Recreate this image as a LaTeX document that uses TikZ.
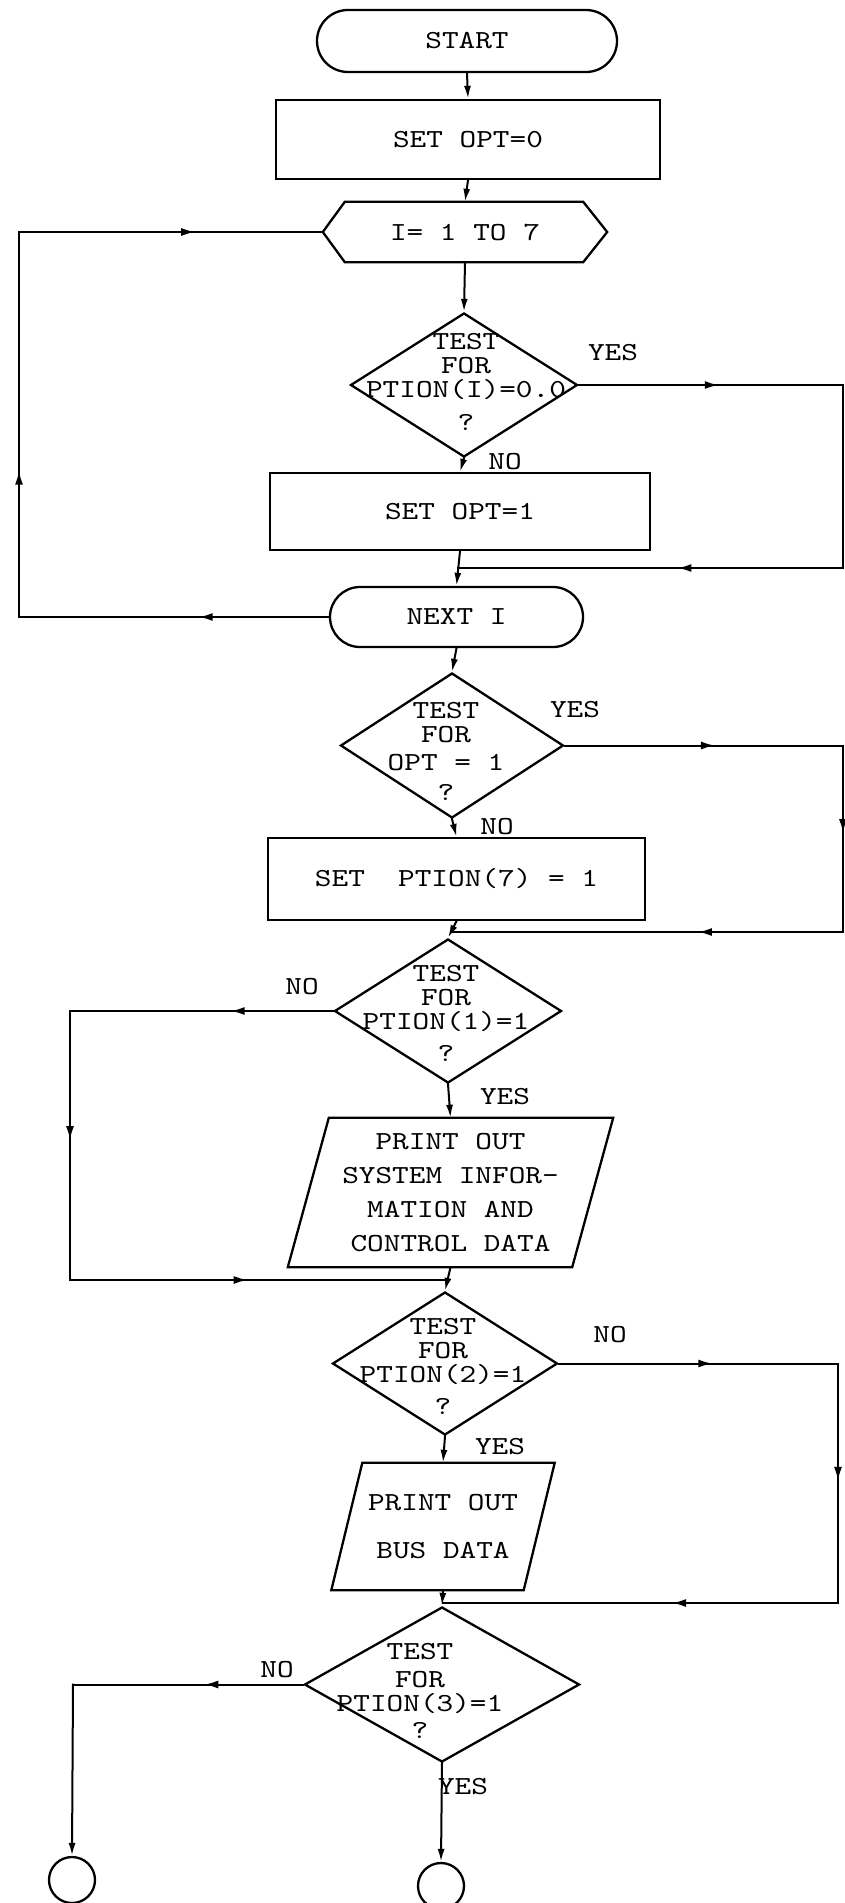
\documentclass[tikz,border=0pt]{standalone}
\usepackage{fontspec}
\newfontfamily\courfont{lmmono10-regular.otf}[FakeStretch=1.22]
\usetikzlibrary{shapes.geometric,shapes.misc,arrows.meta,decorations.markings}
\begin{document}
\begin{tikzpicture}[x=1pt,y=-1pt]
\tikzset{
  every node/.style={font={\courfont\fontsize{26}{24}\selectfont\lineskiplimit=-100pt}},
  shp/.style={draw, line width=2.3pt, inner sep=0pt},
  boxnode/.style={shp, rectangle},
  termnode/.style={shp, rounded rectangle},
  dianode/.style={shp, diamond},
  txt/.style={inner sep=0pt, align=center},
  lab/.style={inner sep=0pt},
  conn/.style={line width=2pt, line cap=rect},
  tip/.style={-{Latex[length=13pt,width=7pt]}},
  arrat/.style={postaction={decorate}, decoration={markings, mark=at position #1 with {\arrow{Latex[length=14pt,width=8pt]}}}},
}
\fill[white] (0,0) rectangle (845,1903);
\useasboundingbox (0,0) rectangle (845,1903);

% rails and merge points
\coordinate (R1) at (843,0);
\coordinate (R2) at (838,0);
\coordinate (L1) at (19,0);
\coordinate (L2) at (70,0);
\coordinate (L3) at (73,0);
\coordinate (m1) at (458,568);
\coordinate (m2) at (451,932);
\coordinate (m3) at (448,1280);
\coordinate (m4) at (443,1603);

% nodes
\node[termnode, minimum width=300pt, minimum height=62pt] (start) at (467,41) {START};
\node[boxnode, minimum width=384pt, minimum height=79pt] (set0) at (468,139.5) {SET OPT=0};
\node[inner sep=0pt, minimum width=284pt, minimum height=60pt] (loop) at (465,232) {I= 1 TO 7};
\draw[line width=2.3pt] ([xshift=22pt]loop.north west) -- ([xshift=-24pt]loop.north east) -- (loop.east) -- ([xshift=-24pt]loop.south east) -- ([xshift=22pt]loop.south west) -- (loop.west) -- cycle;

\node[dianode, minimum width=227pt, minimum height=144pt] (d1) at (464,385) {};
\node[txt] (d1t) at (466,381.5) {TEST\\FOR\\PTION(I)=0.0\\[9pt]?};

\node[boxnode, minimum width=380pt, minimum height=77pt] (set1) at (460,511.5) {SET OPT=1};
\node[termnode, minimum width=253pt, minimum height=60pt] (next) at (456.5,617) {NEXT I};

\node[dianode, minimum width=223pt, minimum height=145pt] (d2) at (452,745.5) {};
\node[txt] (d2t) at (446,751.5) {TEST\\FOR\\[4pt]OPT = 1\\[6pt]?};

\node[boxnode, minimum width=377pt, minimum height=82pt] (set7) at (456.5,879) {SET\ \ PTION(7) = 1};

\node[dianode, minimum width=227pt, minimum height=144pt] (d3) at (448,1011) {};
\node[txt] (d3t) at (446,1013) {TEST\\FOR\\PTION(1)=1\\[8pt]?};

\node[inner sep=0pt, minimum width=284pt, minimum height=149pt, align=center] (pr1) at (450.5,1192.5) {PRINT OUT\\[10pt]SYSTEM INFOR-\\[10pt]MATION AND\\[10pt]CONTROL DATA};
\draw[line width=2.3pt] ([xshift=20.5pt]pr1.north west) -- ([xshift=20.5pt]pr1.north east) -- ([xshift=-20.5pt]pr1.south east) -- ([xshift=-20.5pt]pr1.south west) -- cycle;

\node[dianode, minimum width=225pt, minimum height=143pt] (d4) at (445,1363.5) {};
\node[txt] (d4t) at (443,1366) {TEST\\FOR\\PTION(2)=1\\[8pt]?};

\node[inner sep=0pt, minimum width=192pt, minimum height=127pt, align=center] (pr2) at (443,1526.5) {PRINT OUT\\[24pt]BUS DATA};
\draw[line width=2.3pt] ([xshift=15.5pt]pr2.north west) -- ([xshift=15.5pt]pr2.north east) -- ([xshift=-15.5pt]pr2.south east) -- ([xshift=-15.5pt]pr2.south west) -- cycle;

\node[dianode, minimum width=275pt, minimum height=155pt] (d5) at (442,1684.5) {};
\node[txt] (d5t) at (420,1691) {TEST\\[4pt]FOR\\PTION(3)=1\\[3pt]?};

\node[shp, circle, minimum size=46pt] (c1) at (72,1880) {};
\node[shp, circle, minimum size=46pt] (c2) at (441,1886) {};

% labels
\node[lab] (y1) at (613,353) {YES};
\node[lab] (n1) at (505,462) {NO};
\node[lab] (y2) at (575,710) {YES};
\node[lab] (n2) at (497,827) {NO};
\node[lab] (n3) at (302,987) {NO};
\node[lab] (y3) at (505,1097) {YES};
\node[lab] (n4) at (610,1335) {NO};
\node[lab] (y4) at (500,1447) {YES};
\node[lab] (n5) at (277,1670) {NO};
\node[lab] (y5) at (463,1787) {YES};

% main flow
\draw[conn,tip] (start.south) -- (set0.north);
\draw[conn,tip] (set0.south) -- (loop.north);
\draw[conn,tip] (loop.south) -- (d1.north);
\draw[conn,tip] (d1.south) -- (set1.north);
\draw[conn,tip] (set1.south) -- (next.north);
% d1 yes branch
\draw[conn,arrat=0.53] (d1.east) -- (d1.east -| R1);
\draw[conn] (d1.east -| R1) -- (m1 -| R1);
\draw[conn,arrat=0.43] (m1 -| R1) -- (m1);
% loop back
\draw[conn,arrat=0.42] (next.west) -- (next.west -| L1);
\draw[conn,arrat=0.38] (next.west -| L1) -- (loop.west -| L1);
\draw[conn,arrat=0.58] (loop.west -| L1) -- (loop.west);
% d2
\draw[conn,tip] (next.south) -- (d2.north);
\draw[conn,tip] (d2.south) -- (set7.north);
\draw[conn,arrat=0.54] (d2.east) -- (d2.east -| R1);
\draw[conn,arrat=0.47] (d2.east -| R1) -- (m2 -| R1);
\draw[conn,arrat=0.37] (m2 -| R1) -- (m2);
\draw[conn,tip] (set7.south) -- (d3.north);
% d3
\draw[conn,arrat=0.39] (d3.west) -- (d3.west -| L2);
\draw[conn,arrat=0.48] (d3.west -| L2) -- (m3 -| L2);
\draw[conn,arrat=0.47] (m3 -| L2) -- (m3);
\draw[conn,tip] (d3.south) -- (pr1.north);
\draw[conn,tip] (pr1.south) -- (d4.north);
% d4
\draw[conn,arrat=0.55] (d4.east) -- (d4.east -| R2);
\draw[conn,arrat=0.49] (d4.east -| R2) -- (m4 -| R2);
\draw[conn,arrat=0.42] (m4 -| R2) -- (m4);
\draw[conn,tip] (d4.south) -- (pr2.north);
\draw[conn,tip] (pr2.south) -- (d5.north);
% d5
\draw[conn,arrat=0.43] (d5.west) -- (d5.west -| L3);
\draw[conn,tip] (d5.west -| L3) -- (c1.north);
\draw[conn,tip] (d5.south) -- (c2.north);
\end{tikzpicture}
\end{document}
